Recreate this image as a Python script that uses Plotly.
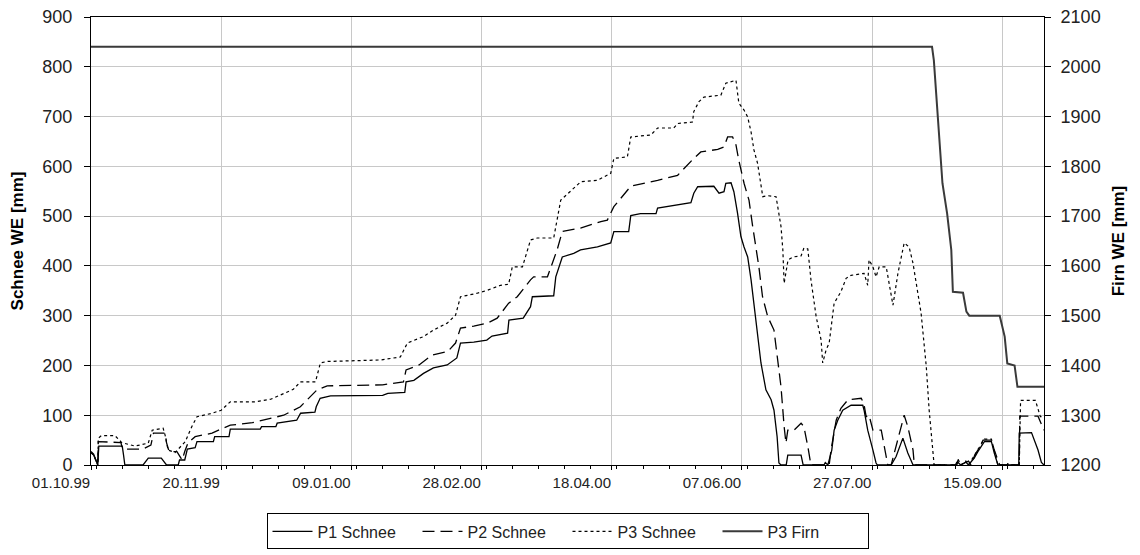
import pandas as pd
import plotly.graph_objects as go

START = pd.Timestamp('1999-10-01')

# days since 01.10.99 and values [mm]
p1_days = [0, 1, 2, 2.6, 3, 12, 12.5, 13, 20, 21, 22, 27, 28.5, 29, 33.5, 34, 36, 37, 40, 40.7, 47, 47.5,
           53, 53.5, 65, 65.5, 71, 71.5, 79, 80.5, 86, 86.5, 88, 92, 112, 114, 120.5, 121, 124, 127.7,
           131.5, 136.8, 140.5, 141.9, 147, 152, 154, 160, 160.5, 166, 168.8, 169.5, 177.7, 178.5, 181,
           185.4, 188, 194.5, 199.6, 200.8, 206.5, 207.3, 211, 217, 217.6, 225.3, 230.4, 231.5, 233,
           239.2, 241.2, 243.1, 243.8, 245.8, 246.9, 248.3, 249.6, 250.8, 252.2, 253.5, 255.4, 257.3,
           259.2, 261.2, 262.3, 263.5, 264.2, 265, 267, 267.6, 272.7, 273.5, 281.5, 282, 283, 284.5,
           285.4, 286.8, 288.7, 291.9, 296.4, 296.9, 298.3, 299, 300.3, 301.5, 302, 307.3, 309.2, 311.8,
           313.7, 315.7, 332, 333, 334, 336, 337, 339.2, 340.6, 343.1, 345.8, 346.9, 348.3, 356.3,
           356.5, 361.2, 363.7, 365, 366]
p1_vals = [25, 20, 8, 0, 38, 38, 20, 0, 0, 8, 14, 14, 5, 0, 0, 10, 10, 32, 35, 47, 47, 57,
           57, 72, 72, 77, 77, 84, 90, 104, 106, 117, 134, 139, 140, 144, 146, 167, 170, 184,
           195, 201, 215, 245, 247, 251, 259, 265, 291, 295, 318, 338, 340, 378, 418,
           425, 432, 438, 446, 469, 469, 501, 505, 505, 516, 522, 527, 546, 559,
           560, 546, 549, 566, 567, 549, 506, 459, 438, 418, 372, 291, 205,
           151, 131, 110, 57, 4, 0, 0, 20, 20, 0, 0, 5, 0, 30,
           70, 90, 110, 120, 120, 110, 70, 57, 30, 4, 0, 0, 17, 54,
           24, 0, 0, 5, 0, 6, 0, 14, 27, 47, 47, 24, 0, 0,
           64, 65, 30, 5, 0]

p2_days = [0, 1, 2, 2.6, 2.8, 11.5, 12, 13, 20, 23, 24, 28.5, 29, 30, 33, 35, 36, 37.3, 40, 46.5, 49,
           53.5, 62, 66, 74, 80.4, 86.8, 90.7, 112, 120, 121, 126, 131, 137, 140, 141.9, 147, 152.2,
           156, 160.4, 163.7, 168.8, 170, 175.3, 179, 181, 188, 195.8, 198.3, 200.8, 207.3, 217.6,
           225.3, 231.5, 234.2, 240.7, 243.1, 244.5, 246.4, 247.7, 248.8, 250.8, 252.7, 254.1, 256.5,
           257.9, 259.9, 262.3, 263.7, 265, 266.2, 266.9, 267.6, 270, 272.7, 273.8, 275.3, 276.5,
           283.5, 284.2, 286.2, 288, 290.7, 295.8, 296.8, 297.7, 298.8, 300.3, 303.5, 306, 307.3,
           311.2, 312.3, 313.7, 315.7, 316.2, 332.5, 333, 334, 337, 338, 339.4, 340.6, 342.6, 345.8,
           346.9, 349, 352, 352.2, 353, 356.5, 356.7, 363.7, 366]
p2_vals = [27, 22, 8, 0, 47, 45, 34, 32, 32, 40, 64, 64, 45, 27, 27, 10, 27, 45, 57, 64, 70,
           80, 85, 90, 100, 117, 151, 159, 161, 167, 191, 201, 221, 228, 245, 275, 279, 285,
           295, 325, 338, 372, 378, 378, 432, 469, 476, 489, 492, 519, 560, 572,
           582, 616, 629, 634, 639, 659, 659, 643, 612, 566, 532, 480, 398,
           338, 298, 271, 217, 157, 77, 44, 70, 70, 84, 77, 37, 0,
           0, 30, 90, 114, 131, 134, 124, 97, 100, 70, 70, 0, 0,
           77, 100, 77, 30, 0, 0, 10, 0, 8, 0, 20, 30, 50, 50,
           30, 0, 0, 7, 0, 0, 98, 98, 70]

p3_days = [0, 1, 2, 2.6, 2.8, 4, 9.2, 11.8, 16.9, 22, 23.5, 27.7, 28.5, 29.6, 32.3, 36.2, 38.7, 40.7,
           46.5, 50, 53.5, 63, 69, 72.7, 77.7, 80.4, 86.2, 88.1, 90.7, 111.2, 118.8, 121.5, 127.7,
           131.5, 136.8, 140, 141.9, 148.3, 152.2, 157.3, 160.4, 161.8, 165.7, 168.8, 171.4, 177.7,
           179.1, 180.4, 188.1, 194.5, 199.6, 200.8, 206, 207.3, 215, 217.6, 223.8, 225.3, 231,
           231.5, 233.5, 235.4, 241.9, 243.8, 247.7, 248.8, 250.8, 252.2, 253.5, 254.6, 256, 258,
           259.9, 263.1, 265, 265.7, 266.2, 267.7, 269.6, 272.7, 273.8, 275.3, 276.5, 278.5, 280.4,
           281, 282.3, 283.5, 285.4, 288, 290, 291.9, 296.9, 298.3, 298.8, 300.3, 301.5, 302.7,
           305.4, 308, 309.9, 312.3, 314.2, 315.7, 318.8, 320.8, 321.9, 323.3, 323.8, 332, 333, 334,
           336, 337, 339.2, 340.6, 343.1, 345.8, 346.9, 348.3, 356.5, 357, 362.7, 364.6, 366]
p3_vals = [25, 20, 8, 0, 54, 59, 59, 45, 38, 44, 70, 74, 59, 30, 25, 47, 77, 97,
           104, 110, 127, 127, 132, 141, 152, 167, 167, 205, 208, 211, 217, 245, 258,
           271, 285, 301, 338, 345, 351, 361, 363, 398, 398, 452, 456, 456,
           499, 532, 569, 572, 586, 616, 619, 659, 663, 677, 677, 686, 689,
           710, 730, 739, 743, 767, 773, 727, 713, 699, 669, 633, 606, 539,
           541, 539, 479, 432, 365, 412, 418, 420, 436, 434, 372, 298, 251,
           205, 231, 245, 325, 348, 375, 381, 385, 361, 412, 398, 378, 398,
           398, 321, 385, 446, 438, 405, 305, 197, 110, 17, 0, 0, 12, 0,
           8, 0, 18, 32, 52, 52, 30, 0, 0, 130, 130, 97, 97]

firn_days = [0, 323, 323.7, 324.4, 325.3, 326.1, 327, 328.8, 330.4, 331, 334.9, 336.2, 337.3, 349,
             350.9, 351.9, 354.7, 355.8, 366]
firn_vals = [2040, 2040, 2013, 1956, 1893, 1819, 1766, 1705, 1632, 1548, 1546, 1508, 1500, 1500,
             1458, 1404, 1400, 1357, 1357]


def to_dates(days):
    return START + pd.to_timedelta(days, unit='D')


FONT = 'Liberation Sans, Arial, sans-serif'
DAY_MS = 86400000

fig = go.Figure()

fig.add_trace(go.Scatter(x=to_dates(p1_days), y=p1_vals, mode='lines', name='P1 Schnee',
                         line=dict(color='black', width=1.3)))
fig.add_trace(go.Scatter(x=to_dates(p2_days), y=p2_vals, mode='lines', name='P2 Schnee',
                         line=dict(color='black', width=1.3, dash='12px,6px')))
fig.add_trace(go.Scatter(x=to_dates(p3_days), y=p3_vals, mode='lines', name='P3 Schnee',
                         line=dict(color='black', width=1.2, dash='3px,3px')))
fig.add_trace(go.Scatter(x=to_dates(firn_days), y=firn_vals, mode='lines', name='P3 Firn',
                         line=dict(color='#3a3a3a', width=2), yaxis='y2'))

# the page body adds an 8px offset, so the figure is a bit smaller than the window
fig.update_layout(
    width=1132, height=547,
    margin=dict(l=83, r=96, t=9, b=90, autoexpand=False),
    paper_bgcolor='white', plot_bgcolor='white',
    font=dict(family=FONT, size=15, color='#222'),
    showlegend=True,
    legend=dict(orientation='h', x=0.5, xanchor='center', y=-0.108, yanchor='top',
                bordercolor='black', borderwidth=1, font=dict(size=16, color='#222'),
                itemwidth=40, entrywidth=95, tracegroupgap=0),
    xaxis=dict(type='date', range=[START, START + pd.Timedelta(days=366)],
               tick0=START, dtick=50 * DAY_MS, tickformat='%d.%m.%y',
               showgrid=True, gridcolor='#c8c8c8', gridwidth=1,
               showline=True, linecolor='black', linewidth=1, mirror=True,
               ticks='outside', ticklen=4, tickcolor='black',
               minor=dict(dtick=10 * DAY_MS, ticks='outside', ticklen=3, tickcolor='black', showgrid=False),
               tickfont=dict(size=15), ticklabelshift=-30, ticklabeloverflow='allow', zeroline=False),
    yaxis=dict(range=[0, 900], dtick=100, showgrid=True, gridcolor='#c8c8c8', gridwidth=1,
               showline=True, linecolor='black', linewidth=1, ticks='outside', ticklen=6,
               tickcolor='black', tickfont=dict(size=18), ticklabelstandoff=8,
               ticklabeloverflow='allow', zeroline=False,
               title=dict(text='<b>Schnee WE [mm]</b>', font=dict(size=17, color='black'), standoff=14)),
    yaxis2=dict(range=[1200, 2100], dtick=100, overlaying='y', side='right', showgrid=False,
                showline=True, linecolor='black', linewidth=1, ticks='outside', ticklen=6,
                tickcolor='black', tickfont=dict(size=18), ticklabelstandoff=6,
                ticklabeloverflow='allow', zeroline=False,
                title=dict(text='<b>Firn WE [mm]</b>', font=dict(size=17, color='black'), standoff=12)),
)

fig.write_html('out.html')
